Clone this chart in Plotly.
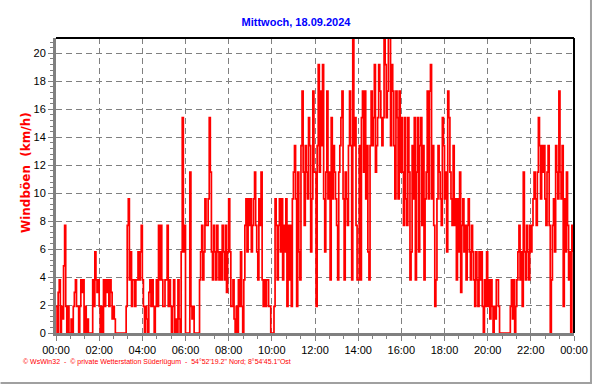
import plotly.graph_objects as go

# Gust values (km/h), one value per 3 minutes, 20 per hour
h00 = [1.9, 0, 2.9, 3.8, 0, 1.9, 1.0, 4.8, 7.7, 1.9, 0, 1.9, 0, 0, 1.0, 0, 1.9, 2.9, 3.8, 1.9]
h01 = [1.9, 0, 1.9, 3.8, 2.9, 3.8, 0, 1.9, 0, 1.0, 0, 0, 0, 0, 3.8, 1.9, 5.8, 3.8, 2.9, 3.8]
h02 = [1.9, 0, 1.9, 0, 3.8, 1.9, 3.8, 2.9, 3.8, 1.9, 3.8, 2.9, 1.0, 1.9, 1.0, 0, 0, 0, 0, 0]
h03 = [0, 0, 0, 0, 0, 1.9, 7.7, 9.6, 3.8, 5.8, 1.9, 3.8, 3.8, 1.9, 3.8, 3.8, 5.8, 3.8, 5.8, 7.7]
h04 = [3.8, 1.9, 0, 1.9, 1.0, 0, 2.9, 3.8, 1.9, 3.8, 1.9, 0, 1.9, 3.8, 1.9, 7.7, 3.8, 7.7, 3.8, 1.9]
h05 = [1.9, 3.8, 3.8, 7.7, 1.9, 3.8, 1.9, 0, 1.9, 3.8, 0, 1.0, 0, 3.8, 1.0, 0, 5.8, 15.4, 5.8, 7.7]
h06 = [0, 0, 0, 0, 11.5, 1.9, 1.0, 1.9, 0, 0, 0, 0, 0, 3.8, 5.8, 7.7, 3.8, 5.8, 9.6, 7.7]
h07 = [7.7, 9.6, 15.4, 11.5, 5.8, 3.8, 7.7, 5.8, 3.8, 7.7, 5.8, 3.8, 5.8, 3.8, 7.7, 5.8, 3.8, 7.7, 2.9, 5.8]
h08 = [9.6, 5.8, 1.9, 1.9, 3.8, 1.0, 0, 1.9, 0, 3.8, 1.9, 5.8, 1.9, 0, 3.8, 7.7, 9.6, 5.8, 9.6, 7.7]
h09 = [9.6, 5.8, 7.7, 9.6, 11.5, 7.7, 5.8, 3.8, 9.6, 7.7, 11.5, 3.8, 1.9, 3.8, 1.9, 3.8, 3.8, 1.9, 1.9, 0]
h10 = [0, 0, 1.9, 9.6, 7.7, 3.8, 7.7, 9.6, 5.8, 9.6, 3.8, 7.7, 5.8, 9.6, 1.9, 7.7, 3.8, 7.7, 1.9, 9.6]
h11 = [11.5, 13.4, 9.6, 1.9, 11.5, 5.8, 3.8, 13.4, 17.3, 11.5, 7.7, 13.4, 11.5, 9.6, 15.4, 13.4, 5.8, 9.6, 17.3, 11.5]
h12 = [11.5, 1.9, 13.4, 19.2, 11.5, 17.3, 13.4, 19.2, 9.6, 5.8, 11.5, 17.3, 9.6, 11.5, 3.8, 15.4, 9.6, 13.4, 11.5, 9.6]
h13 = [7.7, 3.8, 11.5, 13.4, 15.4, 17.3, 9.6, 3.8, 11.5, 9.6, 7.7, 13.4, 17.3, 13.4, 3.8, 21.1, 13.4, 15.4, 7.7, 3.8]
h14 = [3.8, 13.4, 3.8, 15.4, 17.3, 11.5, 17.3, 9.6, 13.4, 5.8, 3.8, 13.4, 17.3, 13.4, 15.4, 19.2, 11.5, 13.4, 15.4, 19.2]
h15 = [17.3, 15.4, 13.4, 15.4, 21.1, 19.2, 15.4, 17.3, 21.1, 21.1, 13.4, 19.2, 17.3, 13.4, 9.6, 17.3, 15.4, 9.6, 17.3, 11.5]
h16 = [15.4, 11.5, 7.7, 15.4, 9.6, 7.7, 15.4, 11.5, 3.8, 5.8, 13.4, 9.6, 15.4, 3.8, 11.5, 15.4, 5.8, 13.4, 15.4, 7.7]
h17 = [13.4, 3.8, 9.6, 11.5, 17.3, 9.6, 17.3, 19.2, 9.6, 13.4, 7.7, 1.9, 3.8, 9.6, 13.4, 11.5, 9.6, 7.7, 15.4, 13.4]
h18 = [9.6, 11.5, 5.8, 17.3, 15.4, 11.5, 9.6, 7.7, 13.4, 7.7, 9.6, 3.8, 9.6, 5.8, 11.5, 2.9, 7.7, 9.6, 5.8, 7.7]
h19 = [3.8, 7.7, 9.6, 5.8, 3.8, 7.7, 5.8, 3.8, 1.9, 5.8, 3.8, 1.9, 5.8, 3.8, 5.8, 1.9, 0, 3.8, 1.9, 5.8]
h20 = [1.9, 3.8, 1.0, 3.8, 1.9, 0, 1.9, 1.0, 3.8, 3.8, 1.9, 0, 0, 0, 0, 0, 0, 0, 0, 0]
h21 = [0, 1.9, 3.8, 1.0, 3.8, 0, 1.9, 3.8, 5.8, 7.7, 3.8, 5.8, 1.9, 11.5, 5.8, 3.8, 7.7, 5.8, 3.8, 7.7]
h22 = [5.8, 7.7, 9.6, 11.5, 9.6, 7.7, 11.5, 15.4, 13.4, 9.6, 13.4, 11.5, 13.4, 9.6, 7.7, 11.5, 13.4, 7.7, 0, 3.8]
h23 = [7.7, 9.6, 5.8, 13.4, 11.5, 9.6, 17.3, 11.5, 9.6, 13.4, 1.9, 9.6, 5.8, 11.5, 7.7, 3.8, 5.8, 0, 7.7, 5.8]

hours = [h00, h01, h02, h03, h04, h05, h06, h07, h08, h09, h10, h11,
         h12, h13, h14, h15, h16, h17, h18, h19, h20, h21, h22, h23]
tick_vals = list(range(0, 25, 2))
tick_text = ["00:00", "02:00", "04:00", "06:00", "08:00", "10:00", "12:00",
             "14:00", "16:00", "18:00", "20:00", "22:00", "00:00"]
y_ticks = list(range(0, 21, 2))

gust = [v for hr in hours for v in hr]
t = [i * 0.05 for i in range(len(gust))]

title = "Mittwoch, 18.09.2024"
ylabel = "Windböen\u00a0 (km/h)"
footer = "© WsWin32  -  © private Wetterstation Süderlügum  -  54°52'19.2\" Nord; 8°54'45.1\"Ost"

fig = go.Figure()
fig.add_trace(go.Scatter(x=t, y=gust, mode="lines", line=dict(color="#FF0000", width=1.7, shape="hv"),
                         hoverinfo="skip", showlegend=False))

L, R, T, B = 55.5, 18, 38, 51
W, H = 592, 384
pw, ph = W - L - R, H - T - B

fig.update_layout(
    width=W, height=H, margin=dict(l=L, r=R, t=T, b=B, autoexpand=False),
    paper_bgcolor="white", plot_bgcolor="white",
    font=dict(family="Liberation Sans, Arial, sans-serif", size=11, color="black"),
    title=dict(text="<b>" + title + "</b>", x=0.5, xanchor="center", y=1 - 22 / H, yanchor="middle",
               font=dict(size=11, color="#0000FF")),
    xaxis=dict(range=[0, 24], tickmode="array", tickvals=tick_vals, ticktext=tick_text,
               automargin=False,
               showgrid=True, gridcolor="#808080", gridwidth=1, griddash="6px,4px",
               ticks="outside", ticklen=5, tickcolor="#808080", tickwidth=1,
               showline=True, linecolor="#808080", linewidth=3, zeroline=False,
               minor=dict(tickmode="linear", tick0=0, dtick=2 / 3, ticks="outside", ticklen=3,
                          tickcolor="#808080", showgrid=False),
               tickfont=dict(size=11)),
    yaxis=dict(range=[0, 21.1], tickmode="array", tickvals=y_ticks,
               automargin=False,
               showgrid=True, gridcolor="#808080", gridwidth=1, griddash="6px,4px",
               ticks="outside", ticklen=5, tickcolor="#808080", tickwidth=1,
               showline=True, linecolor="#808080", linewidth=3, zeroline=False,
               minor=dict(tickmode="linear", tick0=0, dtick=0.4, ticks="outside", ticklen=3,
                          tickcolor="#808080", showgrid=False),
               tickfont=dict(size=11)),
)

# top and right black border of the plot area
fig.add_shape(type="line", xref="paper", yref="paper", x0=0, x1=1, y0=1, y1=1,
              line=dict(color="black", width=2))
fig.add_shape(type="line", xref="paper", yref="paper", x0=1, x1=1, y0=0, y1=1,
              line=dict(color="black", width=2))
# outer frame (right and bottom)
fig.add_shape(type="line", xref="paper", yref="paper",
              x0=(W - 1 - L) / pw, x1=(W - 1 - L) / pw, y0=-(B - 1) / ph, y1=(H - B) / ph,
              line=dict(color="#A0A0A0", width=2))
fig.add_shape(type="line", xref="paper", yref="paper",
              x0=-L / pw, x1=(W - L) / pw, y0=-(B - 1) / ph, y1=-(B - 1) / ph,
              line=dict(color="#A0A0A0", width=2))

fig.add_annotation(text="<b>" + ylabel + "</b>", xref="paper", yref="paper",
                   x=(25.5 - L) / pw, y=(333 - 173) / ph, textangle=-90, showarrow=False,
                   xanchor="center", yanchor="middle",
                   font=dict(family="DejaVu Sans, sans-serif", size=12, color="#FF0000"))
fig.add_annotation(text=footer, xref="paper", yref="paper",
                   x=(20 - L) / pw, y=(333 - 362) / ph, showarrow=False,
                   xanchor="left", yanchor="middle", font=dict(size=7, color="#FF0000"))

fig.write_html("out.html", config={"displayModeBar": False},
               post_script="document.body.style.margin='0px';document.body.style.overflow='hidden';")
